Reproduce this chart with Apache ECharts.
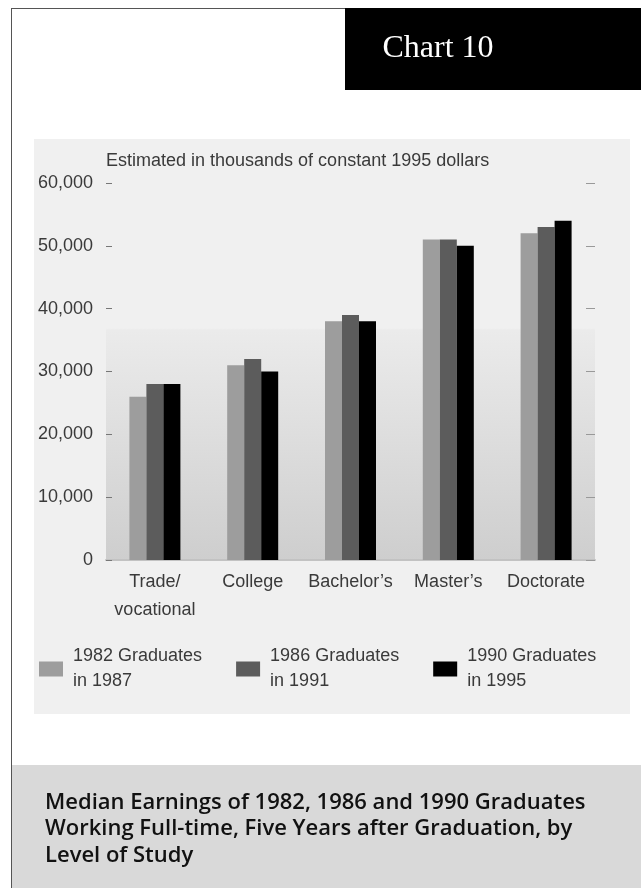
<!DOCTYPE html>
<html>
<head>
<meta charset="utf-8">
<script src="https://cdn.jsdelivr.net/npm/echarts@6/dist/echarts.min.js"></script>
<style>
  html, body { margin: 0; padding: 0; background: #ffffff; }
  #chart { width: 641px; height: 888px; }
</style>
</head>
<body>
<div id="chart"></div>
<script>
// ---- data ----
const categories = ['Trade/\nvocational', 'College', 'Bachelor\u2019s', 'Master\u2019s', 'Doctorate'];
const seriesNames = ['1982 Graduates\nin 1987', '1986 Graduates\nin 1991', '1990 Graduates\nin 1995'];
const grads1982 = [26000, 31000, 38000, 51000, 52000];
const grads1986 = [28000, 32000, 39000, 51000, 53000];
const grads1990 = [28000, 30000, 38000, 50000, 54000];
const yMin = 0, yMax = 60000, yStep = 10000;
const axisTitle = 'Estimated in thousands of constant 1995 dollars';
const chartLabel = 'Chart 10';
const caption = 'Median Earnings of 1982, 1986 and 1990 Graduates\nWorking Full-time, Five Years after Graduation, by\nLevel of Study';

const barColors = ['#9d9d9d', '#5c5c5c', '#000000'];
const sans = "'Liberation Sans', Arial, sans-serif";

const chart = echarts.init(document.getElementById('chart'), null, { renderer: 'canvas' });

const seriesData = [grads1982, grads1986, grads1990];

const option = {
  animation: false,
  backgroundColor: '#ffffff',
  graphic: [
    // chart panel background
    { type: 'rect', z: -10, shape: { x: 34, y: 139, width: 596, height: 575 }, style: { fill: '#f0f0f0' } },
    // caption band
    { type: 'rect', z: -10, shape: { x: 12, y: 765, width: 629, height: 123 }, style: { fill: '#d9d9d9' } },
    // frame lines
    { type: 'line', z: 5, shape: { x1: 11.5, y1: 8, x2: 11.5, y2: 888 }, style: { stroke: '#555', lineWidth: 1 } },
    { type: 'line', z: 5, shape: { x1: 11, y1: 8.5, x2: 641, y2: 8.5 }, style: { stroke: '#555', lineWidth: 1 } },
    // black label box
    { type: 'rect', z: 5, shape: { x: 345, y: 8, width: 296, height: 82 }, style: { fill: '#000' } },
    { type: 'text', z: 6, x: 438, y: 49,
      style: { text: chartLabel, fill: '#fff', font: "32px 'Liberation Serif', 'Times New Roman', serif", align: 'center', verticalAlign: 'middle' } },
    // axis title
    { type: 'text', z: 6, x: 106, y: 161,
      style: { text: axisTitle, fill: '#3a3a3a', font: "18px " + sans, align: 'left', verticalAlign: 'middle' } },
    // caption
    { type: 'text', z: 6, x: 45, y: 789,
      style: { text: caption, fill: '#111', font: "600 22px 'Open Sans', sans-serif", lineHeight: 26.5, align: 'left', verticalAlign: 'top' } }
  ],
  legend: {
    left: 39,
    top: 644,
    padding: 0,
    orient: 'horizontal',
    icon: 'rect',
    itemWidth: 24,
    itemHeight: 15,
    itemGap: 34,
    selectedMode: false,
    textStyle: { fontFamily: sans, fontSize: 18, color: '#3a3a3a', lineHeight: 25, padding: [0, 0, 0, 5] },
    data: seriesNames
  },
  grid: {
    left: 106, right: 46, top: 183, bottom: 328,
    show: true,
    borderWidth: 0,
    backgroundColor: new echarts.graphic.LinearGradient(0, 0, 0, 1, [
      { offset: 0, color: '#f0f0f0' },
      { offset: 0.385, color: '#f0f0f0' },
      { offset: 0.39, color: '#ebebeb' },
      { offset: 1, color: '#cecece' }
    ])
  },
  xAxis: {
    type: 'category',
    data: categories,
    axisTick: { show: false },
    axisLine: { show: true, lineStyle: { color: '#c2c2c2', width: 2 } },
    axisLabel: { interval: 0, fontFamily: sans, fontSize: 18, color: '#3a3a3a', lineHeight: 28, margin: 8 }
  },
  yAxis: [
    {
      type: 'value', min: yMin, max: yMax, interval: yStep, position: 'left',
      axisLine: { show: false },
      axisTick: { show: true, inside: true, length: 6, lineStyle: { color: '#777' } },
      splitLine: { show: false },
      axisLabel: { fontFamily: sans, fontSize: 18, color: '#3a3a3a', margin: 13,
        formatter: v => v.toLocaleString('en-US') }
    },
    {
      type: 'value', min: yMin, max: yMax, interval: yStep, position: 'right',
      axisLine: { show: false },
      axisTick: { show: true, inside: true, length: 9, lineStyle: { color: '#999' } },
      splitLine: { show: false },
      axisLabel: { show: false }
    }
  ],
  series: seriesNames.map((name, i) => ({
    name: name,
    type: 'bar',
    data: seriesData[i],
    barWidth: 17,
    barGap: '0%',
    itemStyle: { color: barColors[i] },
    emphasis: { disabled: true }
  }))
};

chart.setOption(option);
</script>
</body>
</html>
